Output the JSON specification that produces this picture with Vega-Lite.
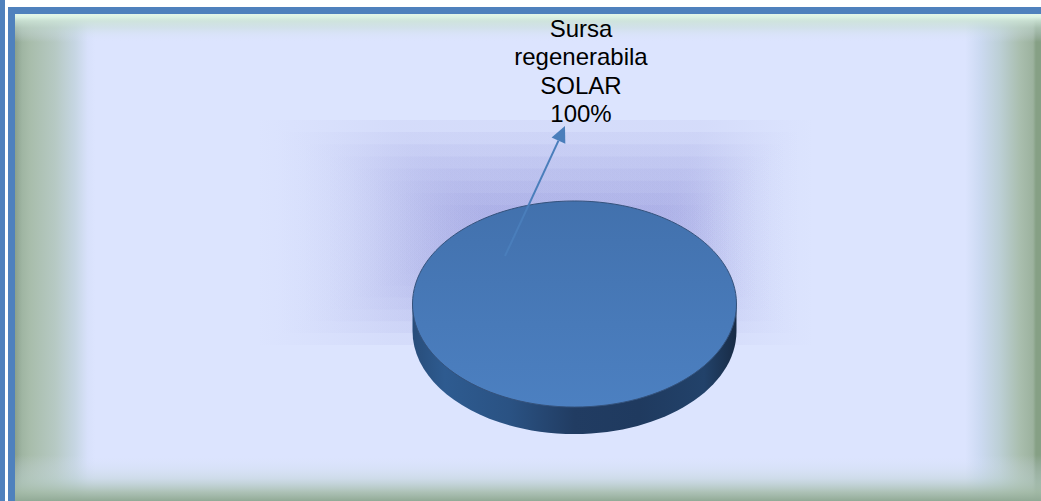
{
  "$schema": "https://vega.github.io/schema/vega-lite/v6.json",
  "autosize": "none",
  "width": 1041,
  "height": 501,
  "padding": 0,
  "background": "white",
  "config": {
    "view": {"stroke": null, "fill": "white"},
    "axis": {"disable": true},
    "text": {"font": "Liberation Sans"}
  },
  "data": {"values": [{"sursa": "Sursa regenerabila SOLAR", "pondere": 1}]},
  "layer": [
    {
      "mark": {"type": "rect", "fill": {"gradient": "linear", "x1": 0, "y1": 0, "x2": 1, "y2": 0, "stops": [
        {"offset": 0, "color": "#8aa08c"},
        {"offset": 0.0029, "color": "#93a996"},
        {"offset": 0.0068, "color": "#9fb5a2"},
        {"offset": 0.0146, "color": "#a8bdab"},
        {"offset": 0.039, "color": "#b6c9c3"},
        {"offset": 0.0585, "color": "#c6d6e3"},
        {"offset": 0.0711, "color": "#d8e1fb"},
        {"offset": 0.078, "color": "#dce4fe"},
        {"offset": 0.926, "color": "#dce4fe"},
        {"offset": 0.9405, "color": "#ccdaf2"},
        {"offset": 0.96, "color": "#bccfd5"},
        {"offset": 0.9795, "color": "#a9beae"},
        {"offset": 0.9922, "color": "#9cb29e"},
        {"offset": 0.9951, "color": "#86a085"},
        {"offset": 1, "color": "#86a085"}
      ]}},
      "encoding": {
        "x": {"datum": 0.01441, "type": "quantitative", "scale": {"domain": [0, 1], "nice": false, "zero": false}, "axis": null},
        "x2": {"datum": 1},
        "y": {"datum": 0.02794, "type": "quantitative", "scale": {"domain": [0, 1], "nice": false, "zero": false, "reverse": true}, "axis": null},
        "y2": {"datum": 1}
      }
    },
    {
      "mark": {"type": "rect", "fill": {"gradient": "linear", "x1": 0, "y1": 0, "x2": 0, "y2": 1, "stops": [
        {"offset": 0, "color": "rgba(228,246,232,1)"},
        {"offset": 0.006, "color": "rgba(220,242,228,1)"},
        {"offset": 0.0144, "color": "rgba(205,228,215,0.85)"},
        {"offset": 0.0287, "color": "rgba(200,222,215,0.5)"},
        {"offset": 0.0575, "color": "rgba(220,228,254,0)"},
        {"offset": 0.9055, "color": "rgba(220,228,254,0)"},
        {"offset": 0.953, "color": "rgba(190,210,210,0.45)"},
        {"offset": 0.9815, "color": "rgba(165,188,170,0.85)"},
        {"offset": 1, "color": "rgba(145,170,150,1)"}
      ]}},
      "encoding": {
        "x": {"datum": 0.01441, "type": "quantitative", "scale": {"domain": [0, 1], "nice": false, "zero": false}, "axis": null},
        "x2": {"datum": 1},
        "y": {"datum": 0.02794, "type": "quantitative", "scale": {"domain": [0, 1], "nice": false, "zero": false, "reverse": true}, "axis": null},
        "y2": {"datum": 1}
      }
    },
    {
      "layer": [
        {"encoding": {"x": {"datum": 0.24496, "type": "quantitative", "scale": {"domain": [0, 1], "nice": false, "zero": false}, "axis": null}, "x2": {"datum": 0.7829}, "y": {"datum": 0.23952, "type": "quantitative", "scale": {"domain": [0, 1], "nice": false, "zero": false, "reverse": true}, "axis": null}, "y2": {"datum": 0.68862}}, "mark": {"type": "rect", "fill": {"gradient": "linear", "x1": 0, "y1": 0, "x2": 1, "y2": 0, "stops": [{"offset": 0, "color": "rgba(120,120,205,0)"}, {"offset": 0.25, "color": "rgba(120,120,205,0.075)"}, {"offset": 0.8, "color": "rgba(120,120,205,0.075)"}, {"offset": 1, "color": "rgba(120,120,205,0)"}]}}},
        {"encoding": {"x": {"datum": 0.26763, "type": "quantitative", "scale": {"domain": [0, 1], "nice": false, "zero": false}, "axis": null}, "x2": {"datum": 0.76917}, "y": {"datum": 0.26367, "type": "quantitative", "scale": {"domain": [0, 1], "nice": false, "zero": false, "reverse": true}, "axis": null}, "y2": {"datum": 0.66487}}, "mark": {"type": "rect", "fill": {"gradient": "linear", "x1": 0, "y1": 0, "x2": 1, "y2": 0, "stops": [{"offset": 0, "color": "rgba(120,120,205,0)"}, {"offset": 0.25, "color": "rgba(120,120,205,0.075)"}, {"offset": 0.8, "color": "rgba(120,120,205,0.075)"}, {"offset": 1, "color": "rgba(120,120,205,0)"}]}}},
        {"encoding": {"x": {"datum": 0.2902, "type": "quantitative", "scale": {"domain": [0, 1], "nice": false, "zero": false}, "axis": null}, "x2": {"datum": 0.75543}, "y": {"datum": 0.28802, "type": "quantitative", "scale": {"domain": [0, 1], "nice": false, "zero": false, "reverse": true}, "axis": null}, "y2": {"datum": 0.64132}}, "mark": {"type": "rect", "fill": {"gradient": "linear", "x1": 0, "y1": 0, "x2": 1, "y2": 0, "stops": [{"offset": 0, "color": "rgba(120,120,205,0)"}, {"offset": 0.25, "color": "rgba(120,120,205,0.075)"}, {"offset": 0.8, "color": "rgba(120,120,205,0.075)"}, {"offset": 1, "color": "rgba(120,120,205,0)"}]}}},
        {"encoding": {"x": {"datum": 0.31287, "type": "quantitative", "scale": {"domain": [0, 1], "nice": false, "zero": false}, "axis": null}, "x2": {"datum": 0.74169}, "y": {"datum": 0.31218, "type": "quantitative", "scale": {"domain": [0, 1], "nice": false, "zero": false, "reverse": true}, "axis": null}, "y2": {"datum": 0.61756}}, "mark": {"type": "rect", "fill": {"gradient": "linear", "x1": 0, "y1": 0, "x2": 1, "y2": 0, "stops": [{"offset": 0, "color": "rgba(120,120,205,0)"}, {"offset": 0.25, "color": "rgba(120,120,205,0.075)"}, {"offset": 0.8, "color": "rgba(120,120,205,0.075)"}, {"offset": 1, "color": "rgba(120,120,205,0)"}]}}},
        {"encoding": {"x": {"datum": 0.33554, "type": "quantitative", "scale": {"domain": [0, 1], "nice": false, "zero": false}, "axis": null}, "x2": {"datum": 0.72805}, "y": {"datum": 0.33653, "type": "quantitative", "scale": {"domain": [0, 1], "nice": false, "zero": false, "reverse": true}, "axis": null}, "y2": {"datum": 0.59401}}, "mark": {"type": "rect", "fill": {"gradient": "linear", "x1": 0, "y1": 0, "x2": 1, "y2": 0, "stops": [{"offset": 0, "color": "rgba(120,120,205,0)"}, {"offset": 0.25, "color": "rgba(120,120,205,0.075)"}, {"offset": 0.8, "color": "rgba(120,120,205,0.075)"}, {"offset": 1, "color": "rgba(120,120,205,0)"}]}}},
        {"encoding": {"x": {"datum": 0.35821, "type": "quantitative", "scale": {"domain": [0, 1], "nice": false, "zero": false}, "axis": null}, "x2": {"datum": 0.71431}, "y": {"datum": 0.36068, "type": "quantitative", "scale": {"domain": [0, 1], "nice": false, "zero": false, "reverse": true}, "axis": null}, "y2": {"datum": 0.57026}}, "mark": {"type": "rect", "fill": {"gradient": "linear", "x1": 0, "y1": 0, "x2": 1, "y2": 0, "stops": [{"offset": 0, "color": "rgba(120,120,205,0)"}, {"offset": 0.25, "color": "rgba(120,120,205,0.075)"}, {"offset": 0.8, "color": "rgba(120,120,205,0.075)"}, {"offset": 1, "color": "rgba(120,120,205,0)"}]}}},
        {"encoding": {"x": {"datum": 0.38078, "type": "quantitative", "scale": {"domain": [0, 1], "nice": false, "zero": false}, "axis": null}, "x2": {"datum": 0.70058}, "y": {"datum": 0.38503, "type": "quantitative", "scale": {"domain": [0, 1], "nice": false, "zero": false, "reverse": true}, "axis": null}, "y2": {"datum": 0.54671}}, "mark": {"type": "rect", "fill": {"gradient": "linear", "x1": 0, "y1": 0, "x2": 1, "y2": 0, "stops": [{"offset": 0, "color": "rgba(120,120,205,0)"}, {"offset": 0.25, "color": "rgba(120,120,205,0.075)"}, {"offset": 0.8, "color": "rgba(120,120,205,0.075)"}, {"offset": 1, "color": "rgba(120,120,205,0)"}]}}},
        {"encoding": {"x": {"datum": 0.40346, "type": "quantitative", "scale": {"domain": [0, 1], "nice": false, "zero": false}, "axis": null}, "x2": {"datum": 0.68684}, "y": {"datum": 0.40918, "type": "quantitative", "scale": {"domain": [0, 1], "nice": false, "zero": false, "reverse": true}, "axis": null}, "y2": {"datum": 0.52295}}, "mark": {"type": "rect", "fill": {"gradient": "linear", "x1": 0, "y1": 0, "x2": 1, "y2": 0, "stops": [{"offset": 0, "color": "rgba(120,120,205,0)"}, {"offset": 0.25, "color": "rgba(120,120,205,0.075)"}, {"offset": 0.8, "color": "rgba(120,120,205,0.075)"}, {"offset": 1, "color": "rgba(120,120,205,0)"}]}}}
      ]
    },
    {
      "mark": {"type": "point", "filled": true, "opacity": 1, "size": 104976,
        "shape": "M -1 0 L -1 0.1667 C -1 0.518 -0.5523 0.8027 0 0.8027 C 0.5523 0.8027 1 0.518 1 0.1667 L 1 0 Z",
        "fill": {"gradient": "linear", "x1": 0, "y1": 0, "x2": 1, "y2": 0, "stops": [
          {"offset": 0, "color": "#284d7a"},
          {"offset": 0.1, "color": "#2e5b90"},
          {"offset": 0.3, "color": "#2a5283"},
          {"offset": 0.5, "color": "#213c62"},
          {"offset": 0.7, "color": "#1f3a5f"},
          {"offset": 0.9, "color": "#22426a"},
          {"offset": 1, "color": "#182b45"}
        ]}, "stroke": null},
      "encoding": {
        "x": {"datum": 0.55187, "type": "quantitative", "scale": {"domain": [0, 1], "nice": false, "zero": false}, "axis": null},
        "y": {"datum": 0.60679, "type": "quantitative", "scale": {"domain": [0, 1], "nice": false, "zero": false, "reverse": true}, "axis": null},
        "detail": {"field": "sursa", "type": "nominal"}
      }
    },
    {
      "mark": {"type": "point", "filled": true, "opacity": 1, "size": 104976,
        "shape": "M -1 0 C -1 -0.3513 -0.5523 -0.636 0 -0.636 C 0.5523 -0.636 1 -0.3513 1 0 C 1 0.3513 0.5523 0.636 0 0.636 C -0.5523 0.636 -1 0.3513 -1 0 Z",
        "fill": {"gradient": "linear", "x1": 0, "y1": 0, "x2": 0, "y2": 1, "stops": [
          {"offset": 0, "color": "#4271ad"},
          {"offset": 1, "color": "#4c80c1"}
        ]}, "stroke": "#34527c", "strokeWidth": 1},
      "encoding": {
        "x": {"datum": 0.55187, "type": "quantitative", "scale": {"domain": [0, 1], "nice": false, "zero": false}, "axis": null},
        "y": {"datum": 0.60679, "type": "quantitative", "scale": {"domain": [0, 1], "nice": false, "zero": false, "reverse": true}, "axis": null},
        "detail": {"field": "sursa", "type": "nominal"}
      }
    },
    {
      "mark": {"type": "rule", "strokeWidth": 2},
      "encoding": {
        "x": {"datum": 0.48511, "type": "quantitative", "scale": {"domain": [0, 1], "nice": false, "zero": false}, "axis": null},
        "x2": {"datum": 0.5365},
        "y": {"datum": 0.51098, "type": "quantitative", "scale": {"domain": [0, 1], "nice": false, "zero": false, "reverse": true}, "axis": null},
        "y2": {"datum": 0.28064},
        "color": {"field": "sursa", "type": "nominal", "legend": null, "scale": {"range": ["#4a7ebb"]}}
      }
    },
    {
      "mark": {"type": "point", "filled": true, "opacity": 1, "size": 400, "angle": 24,
        "shape": "M 0 -1 L 0.75 0.6 L -0.75 0.6 Z"},
      "encoding": {
        "x": {"datum": 0.53881, "type": "quantitative", "scale": {"domain": [0, 1], "nice": false, "zero": false}, "axis": null},
        "y": {"datum": 0.26966, "type": "quantitative", "scale": {"domain": [0, 1], "nice": false, "zero": false, "reverse": true}, "axis": null},
        "color": {"field": "sursa", "type": "nominal", "legend": null, "scale": {"range": ["#4a7ebb"]}}
      }
    },
    {
      "mark": {"type": "text", "fontSize": 24, "align": "center", "baseline": "alphabetic", "lineBreak": " ", "lineHeight": 28.5, "color": "#000000"},
      "encoding": {
        "x": {"datum": 0.55812, "type": "quantitative", "scale": {"domain": [0, 1], "nice": false, "zero": false}, "axis": null},
        "y": {"datum": 0.07385, "type": "quantitative", "scale": {"domain": [0, 1], "nice": false, "zero": false, "reverse": true}, "axis": null},
        "text": {"field": "sursa", "type": "nominal"}
      }
    },
    {
      "mark": {"type": "text", "fontSize": 24, "align": "center", "baseline": "alphabetic", "color": "#000000"},
      "encoding": {
        "x": {"datum": 0.55812, "type": "quantitative", "scale": {"domain": [0, 1], "nice": false, "zero": false}, "axis": null},
        "y": {"datum": 0.24351, "type": "quantitative", "scale": {"domain": [0, 1], "nice": false, "zero": false, "reverse": true}, "axis": null},
        "text": {"field": "pondere", "type": "quantitative", "format": ".0%"}
      }
    },
    {
      "mark": {"type": "rule", "strokeWidth": 7, "color": "#4f81bd"},
      "encoding": {
        "x": {"datum": 0.007685, "type": "quantitative", "scale": {"domain": [0, 1], "nice": false, "zero": false}, "axis": null},
        "x2": {"datum": 1},
        "y": {"datum": 0.020958, "type": "quantitative", "scale": {"domain": [0, 1], "nice": false, "zero": false, "reverse": true}, "axis": null}
      }
    },
    {
      "mark": {"type": "rule", "strokeWidth": 7, "color": "#4f81bd"},
      "encoding": {
        "x": {"datum": 0.011047, "type": "quantitative", "scale": {"domain": [0, 1], "nice": false, "zero": false}, "axis": null},
        "y": {"datum": 0.01397, "type": "quantitative", "scale": {"domain": [0, 1], "nice": false, "zero": false, "reverse": true}, "axis": null},
        "y2": {"datum": 1}
      }
    },
    {
      "mark": {"type": "rule", "strokeWidth": 5, "color": "#4f81bd"},
      "encoding": {
        "x": {"datum": 0.0024, "type": "quantitative", "scale": {"domain": [0, 1], "nice": false, "zero": false}, "axis": null},
        "y": {"datum": 0, "type": "quantitative", "scale": {"domain": [0, 1], "nice": false, "zero": false, "reverse": true}, "axis": null},
        "y2": {"datum": 1}
      }
    }
  ]
}
